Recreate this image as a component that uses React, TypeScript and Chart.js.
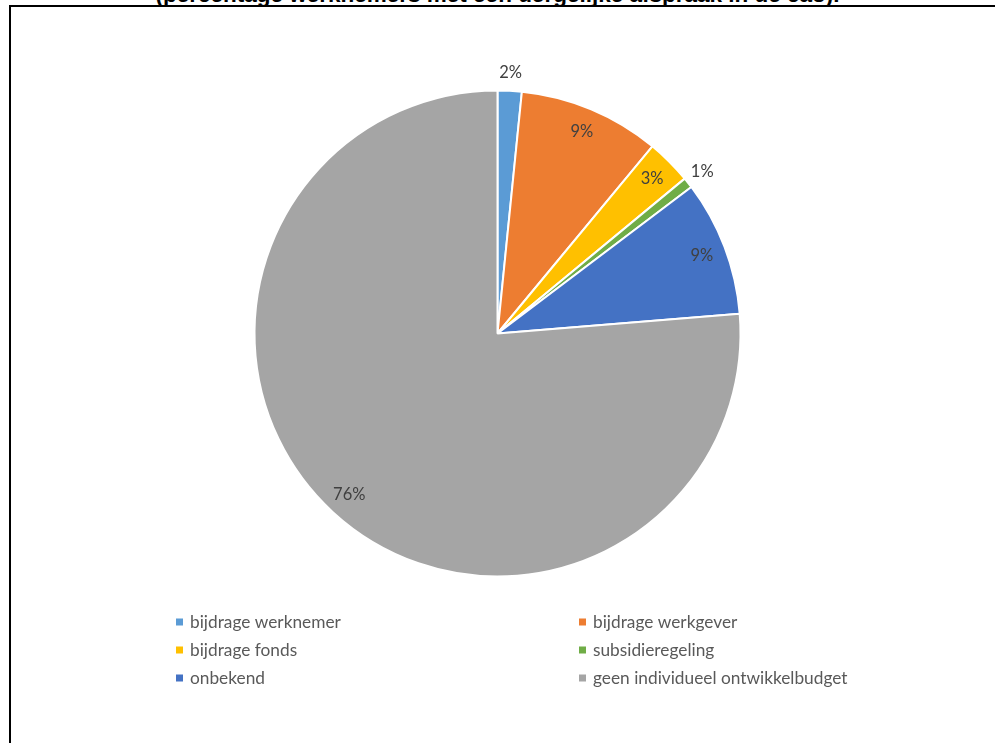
import React, { useEffect, useRef } from "react";
import { Chart, registerables } from "chart.js";

Chart.register(...registerables);

const categories = [
  "bijdrage werknemer",
  "bijdrage werkgever",
  "bijdrage fonds",
  "subsidieregeling",
  "onbekend",
  "geen individueel ontwikkelbudget",
];
const values = [1.6, 9.4, 3.0, 0.7, 9.0, 76.3];
const percentLabels = ["2%", "9%", "3%", "1%", "9%", "76%"];
const outsideLabel = [true, false, false, true, false, false];
const colors = ["#5B9BD5", "#ED7D31", "#FFC000", "#70AD47", "#4472C4", "#A5A5A5"];
const titleText = "(percentage werknemers met een dergelijke afspraak in de cao).";

const LABEL_FONT = '16.5px Lato, "Open Sans", sans-serif';
const LEGEND_FONT = '17.3px Lato, "Open Sans", sans-serif';

const sliceLabelPlugin = {
  id: "sliceLabels",
  afterDatasetsDraw(chart: any) {
    const ctx = chart.ctx;
    const meta = chart.getDatasetMeta(0);
    ctx.save();
    ctx.font = LABEL_FONT;
    ctx.fillStyle = "#404040";
    ctx.textAlign = "center";
    ctx.textBaseline = "middle";
    meta.data.forEach((arc: any, i: number) => {
      const p = arc.getProps(["x", "y", "startAngle", "endAngle", "outerRadius"], true);
      const mid = (p.startAngle + p.endAngle) / 2;
      const r = outsideLabel[i] ? p.outerRadius + 18 : p.outerRadius * 0.9;
      ctx.fillText(percentLabels[i], p.x + Math.cos(mid) * r, p.y + Math.sin(mid) * r);
    });
    ctx.restore();
  },
};

const gridLegendPlugin = {
  id: "gridLegend",
  afterDraw(chart: any) {
    const ctx = chart.ctx;
    const colX = [176, 579];
    const rowY0 = 622;
    const rowGap = 28;
    ctx.save();
    ctx.font = LEGEND_FONT;
    ctx.textBaseline = "middle";
    ctx.textAlign = "left";
    chart.data.labels.forEach((lab: string, i: number) => {
      const col = i % 2;
      const row = Math.floor(i / 2);
      const x = colX[col];
      const y = rowY0 + row * rowGap;
      ctx.fillStyle = colors[i];
      ctx.fillRect(x, y - 3.5, 7, 7);
      ctx.fillStyle = "#595959";
      ctx.fillText(lab, x + 14, y);
    });
    ctx.restore();
  },
};

export default function App() {
  const ref = useRef<HTMLCanvasElement | null>(null);

  useEffect(() => {
    if (!ref.current) return;
    const chart = new Chart(ref.current, {
      type: "pie",
      data: {
        labels: categories,
        datasets: [
          {
            data: values,
            backgroundColor: colors,
            borderColor: "#ffffff",
            borderWidth: 2,
            radius: 243,
          } as any,
        ],
      },
      options: {
        animation: false,
        responsive: false,
        layout: { padding: { top: 91, bottom: 167, left: 0, right: 0 } },
        plugins: {
          legend: { display: false },
          tooltip: { enabled: false },
          title: { display: false },
        },
      },
      plugins: [sliceLabelPlugin, gridLegendPlugin],
    });
    return () => chart.destroy();
  }, []);

  return (
    <div
      style={{
        position: "fixed",
        left: 0,
        top: 0,
        width: 995,
        height: 743,
        overflow: "hidden",
        background: "#ffffff",
      }}
    >
      <div
        style={{
          position: "absolute",
          left: 9,
          top: 5,
          width: 1000,
          height: 800,
          borderLeft: "2px solid #000",
          borderTop: "2px solid #000",
          boxSizing: "border-box",
        }}
      />
      <div
        style={{
          position: "absolute",
          left: 0,
          top: -16,
          width: 995,
          textAlign: "center",
          font: 'bold 22.5px "Liberation Sans", Arial, sans-serif',
          lineHeight: "22px",
          whiteSpace: "nowrap",
          color: "#000",
        }}
      >
        {titleText}
      </div>
      <canvas ref={ref} width={995} height={743} style={{ position: "absolute", left: 0, top: 0 }} />
    </div>
  );
}
